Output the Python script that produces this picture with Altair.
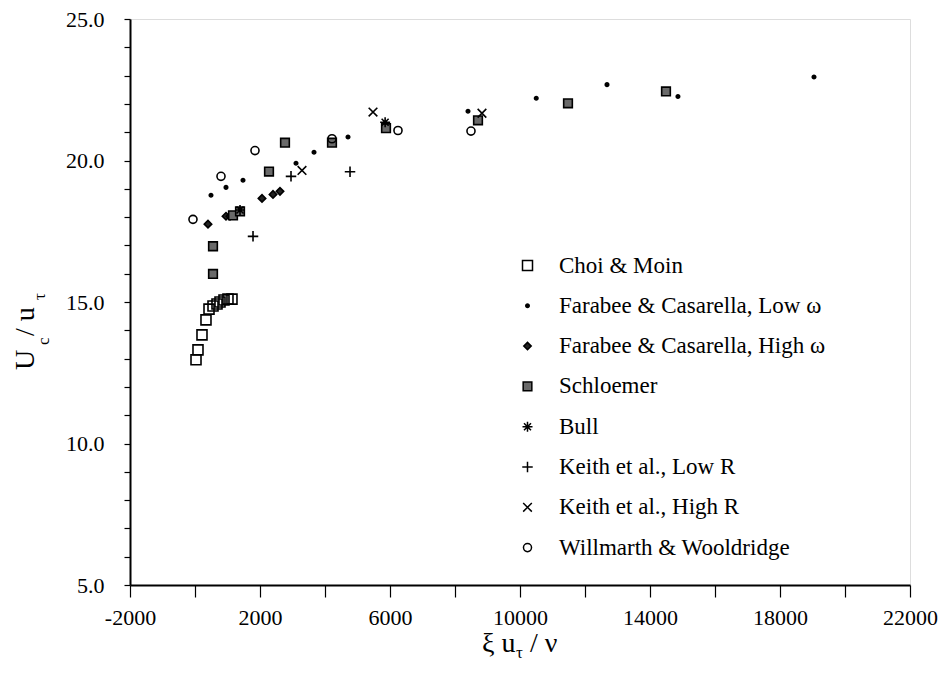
import altair as alt
import pandas as pd

# ---- data ----
series_names = [
    "Choi & Moin",
    "Farabee & Casarella, Low ω",
    "Farabee & Casarella, High ω",
    "Schloemer",
    "Bull",
    "Keith et al., Low R",
    "Keith et al., High R",
    "Willmarth & Wooldridge",
]

choi_x = [31, 92, 215, 338, 431, 554, 677, 769, 892, 1015, 1138]
choi_y = [12.96, 13.31, 13.84, 14.37, 14.75, 14.86, 14.93, 15.0, 15.07, 15.1, 15.1]

fclow_x = [492, 954, 1477, 3108, 3662, 4708, 8400, 10500, 12677, 14860, 19046]
fclow_y = [18.77, 19.05, 19.30, 19.90, 20.29, 20.83, 21.74, 22.2, 22.68, 22.26, 22.95]

fchigh_x = [400, 954, 1077, 2062, 2400, 2615]
fchigh_y = [17.75, 18.03, 18.03, 18.66, 18.80, 18.91]

schl_x = [554, 554, 1169, 1385, 2277, 2769, 4215, 5877, 8708, 11477, 14492]
schl_y = [15.99, 16.97, 18.06, 18.2, 19.61, 20.63, 20.63, 21.14, 21.42, 22.02, 22.44]

bull_x = [1385, 5850]
bull_y = [18.25, 21.35]

klow_x = [1785, 2954, 4770]
klow_y = [17.32, 19.44, 19.6]

khigh_x = [3292, 5477, 8830]
khigh_y = [19.65, 21.71, 21.67]

ww_x = [-62, 800, 1846, 4215, 6246, 8492]
ww_y = [17.92, 19.44, 20.35, 20.77, 21.06, 21.04]

all_x = [choi_x, fclow_x, fchigh_x, schl_x, bull_x, klow_x, khigh_x, ww_x]
all_y = [choi_y, fclow_y, fchigh_y, schl_y, bull_y, klow_y, khigh_y, ww_y]

rows = []
for name, xs, ys in zip(series_names, all_x, all_y):
    for xv, yv in zip(xs, ys):
        rows.append({"series": name, "x": xv, "y": yv})
df = pd.DataFrame(rows)

x_ticks = list(range(-2000, 22001, 2000))
y_ticks = list(range(5, 26))

# ---- styles ----
shapes = [
    "square",
    "circle",
    "diamond",
    "square",
    "M-1,0L1,0M0,-1L0,1M-0.7,-0.7L0.7,0.7M-0.7,0.7L0.7,-0.7",
    "M-1,0L1,0M0,-1L0,1",
    "M-1,-1L1,1M-1,1L1,-1",
    "circle",
]
sizes = [100, 12, 55, 75, 100, 110, 75, 65]
fills = ["transparent", "black", "#222222", "#6a6a6a", "transparent",
         "transparent", "transparent", "transparent"]
strokes = ["black"] * 8

W, H = 780, 566
FONT = "Liberation Serif"


def make_legend():
    return alt.Legend(title=None, orient="none", legendX=386, legendY=235,
                      labelFont=FONT, labelFontSize=23, labelColor="black",
                      labelLimit=500, symbolStrokeWidth=1.5,
                      rowPadding=16.3, labelOffset=20, padding=0)


points = alt.Chart(df).mark_point(filled=False, strokeWidth=1.6, opacity=1).encode(
    x=alt.X("x:Q", scale=alt.Scale(domain=[-2000, 22000], nice=False, zero=False),
            axis=alt.Axis(values=x_ticks, title=None, grid=False,
                          labelExpr="(datum.value + 2000) % 4000 == 0 ? '' + datum.value : ''",
                          tickSize=12, labelPadding=10, labelFontSize=22,
                          labelFont=FONT, labelColor="black", domainColor="black",
                          domainWidth=2, tickColor="black", tickWidth=1.2,
                          labelFlush=False, labelOverlap=False)),
    y=alt.Y("y:Q", scale=alt.Scale(domain=[5, 25], nice=False, zero=False),
            axis=alt.Axis(values=y_ticks, title=None, grid=False,
                          labelExpr="datum.value % 5 == 0 ? format(datum.value, '.1f') : ''",
                          tickSize=6, labelPadding=20, labelFontSize=22,
                          labelFont=FONT, labelColor="black", domainColor="black",
                          domainWidth=2, tickColor="black", tickWidth=1.2,
                          labelOverlap=False)),
    shape=alt.Shape("series:N", scale=alt.Scale(domain=series_names, range=shapes),
                    sort=series_names, legend=make_legend()),
    size=alt.Size("series:N", scale=alt.Scale(type="ordinal", domain=series_names, range=sizes),
                  sort=series_names, legend=make_legend()),
    fill=alt.Fill("series:N", scale=alt.Scale(domain=series_names, range=fills),
                  sort=series_names, legend=make_legend()),
    stroke=alt.Stroke("series:N", scale=alt.Scale(domain=series_names, range=strokes),
                      sort=series_names, legend=make_legend()),
)

one = pd.DataFrame({"k": [0]})


def txt(s, x, y, size, angle=0, align="left"):
    return alt.Chart(one).mark_text(
        text=s, font=FONT, fontSize=size, color="black", align=align,
        baseline="alphabetic", angle=angle
    ).encode(x=alt.value(x), y=alt.value(y))


# x-axis title: xi u_tau / nu  (plot origin at screen 130, 19)
xt = [
    txt("ξ u", 352, 633, 28),
    txt("τ", 386, 639, 17),
    txt("/ ν", 400, 633, 28),
]
# y-axis title: U_c / u_tau (rotated)
yt = [
    txt("U", -96, 351, 28, angle=270),
    txt("c", -81, 326, 17, angle=270),
    txt("/ u", -96, 317, 28, angle=270),
    txt("τ", -85, 281, 17, angle=270),
]

chart = alt.layer(points, *xt, *yt).properties(
    width=W, height=H,
    autosize=alt.AutoSizeParams(type="none"),
    padding={"left": 122, "top": 11, "right": 28, "bottom": 80},
).configure_view(stroke="black", strokeWidth=2).configure(background="white")

chart.save("out.html", embed_options={"renderer": "svg", "actions": False})
